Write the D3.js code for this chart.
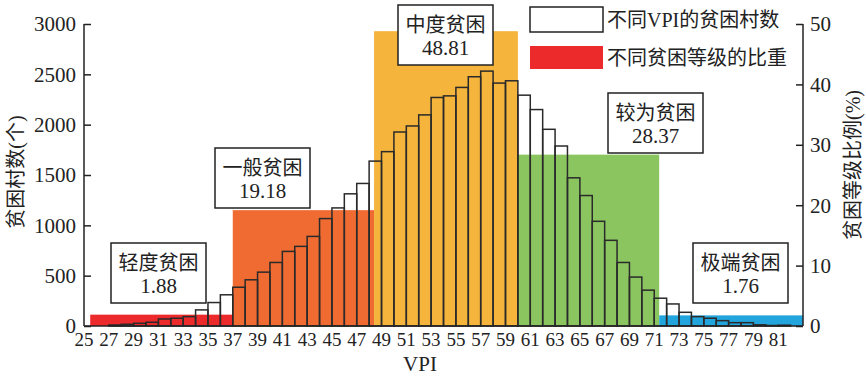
<!DOCTYPE html>
<html>
<head>
<meta charset="utf-8">
<script src="https://cdn.jsdelivr.net/npm/d3@7"></script>
<style>
  body { margin: 0; background: #fff; }
  text { font-family: "Liberation Serif", "Noto Sans CJK SC", serif; fill: #222; }
</style>
</head>
<body>
<svg width="866" height="376"></svg>
<script>
// VPI categories and village counts per VPI
var vpi = [27, 28, 29, 30, 31, 32, 33, 34, 35, 36, 37, 38, 39, 40, 41, 42, 43, 44, 45, 46,
           47, 48, 49, 50, 51, 52, 53, 54, 55, 56, 57, 58, 59, 60, 61, 62, 63, 64, 65, 66,
           67, 68, 69, 70, 71, 72, 73, 74, 75, 76, 77, 78, 79, 80, 81];
var counts = [10, 17, 27, 37, 70, 77, 93, 160, 233, 310, 385, 459, 535, 631, 741, 791, 890, 1067, 1173, 1313,
              1416, 1638, 1732, 1927, 1987, 2097, 2270, 2286, 2370, 2476, 2532, 2413, 2436, 2293, 2150, 1954, 1788, 1472, 1296, 1040,
              851, 631, 486, 356, 276, 219, 136, 93, 77, 53, 33, 33, 12, 5, 8];

// poverty grades, their VPI range and share (%)
var grades = ["轻度贫困", "一般贫困", "中度贫困", "较为贫困", "极端贫困"];
var gradeStart = [25.5, 37, 48.4, 60, 71.4];
var gradeEnd = [37, 48.4, 60, 71.4, 83];
var gradeShare = [1.88, 19.18, 48.81, 28.37, 1.76];
var gradeColor = ["#ed2a2b", "#f06b31", "#f5b43b", "#8bc560", "#22a4dc"];

var xTicks = d3.range(25, 82, 2);
var yTicks = [0, 500, 1000, 1500, 2000, 2500, 3000];
var y2Ticks = [0, 10, 20, 30, 40, 50];

var svg = d3.select("svg"),
    pLeft = 84, pRight = 803, pTop = 24, pBottom = 326;

var x = d3.scaleLinear().domain([25, 83]).range([pLeft, pRight]);
var y = d3.scaleLinear().domain([0, 3000]).range([pBottom, pTop]);
var y2 = d3.scaleLinear().domain([0, 50]).range([pBottom, pTop]);

// grade share background blocks
svg.append("g").selectAll("rect")
  .data(grades)
  .enter().append("rect")
    .attr("x", function(d, i) { return x(gradeStart[i]); })
    .attr("y", function(d, i) { return y2(gradeShare[i]); })
    .attr("width", function(d, i) { return x(gradeEnd[i]) - x(gradeStart[i]); })
    .attr("height", function(d, i) { return pBottom - y2(gradeShare[i]); })
    .attr("fill", function(d, i) { return gradeColor[i]; });

// histogram bars, outline only
svg.append("g").selectAll("rect")
  .data(vpi)
  .enter().append("rect")
    .attr("x", function(d) { return x(d); })
    .attr("y", function(d, i) { return y(counts[i]); })
    .attr("width", x(1) - x(0))
    .attr("height", function(d, i) { return pBottom - y(counts[i]); })
    .attr("fill", "none")
    .attr("stroke", "#2a2a2a")
    .attr("stroke-width", 1.5);

// axes: inward ticks
var yAxis = svg.append("g")
    .attr("transform", "translate(" + pLeft + ",0)")
    .call(d3.axisRight(y).tickValues(yTicks).tickSize(7).tickFormat(""));
var y2Axis = svg.append("g")
    .attr("transform", "translate(" + pRight + ",0)")
    .call(d3.axisLeft(y2).tickValues(y2Ticks).tickSize(7).tickFormat(""));
[yAxis, y2Axis].forEach(function(a) {
  a.select(".domain").remove();
  a.selectAll("line").attr("stroke", "#222").attr("stroke-width", 1.5);
});
svg.append("line").attr("x1", pLeft).attr("x2", pLeft).attr("y1", pTop).attr("y2", pBottom)
    .attr("stroke", "#222").attr("stroke-width", 1.5);
svg.append("line").attr("x1", pRight).attr("x2", pRight).attr("y1", pTop).attr("y2", pBottom)
    .attr("stroke", "#222").attr("stroke-width", 1.5);
svg.append("line").attr("x1", pLeft).attr("x2", pRight).attr("y1", pBottom).attr("y2", pBottom)
    .attr("stroke", "#222").attr("stroke-width", 1.5);

svg.append("g").selectAll("text")
  .data(yTicks)
  .enter().append("text")
    .attr("x", 76)
    .attr("y", function(d) { return y(d); })
    .attr("dy", "0.35em")
    .attr("text-anchor", "end")
    .style("font-size", "21px")
    .text(function(d) { return d; });

svg.append("g").selectAll("text")
  .data(y2Ticks)
  .enter().append("text")
    .attr("x", 810)
    .attr("y", function(d) { return y2(d); })
    .attr("dy", "0.35em")
    .style("font-size", "21px")
    .text(function(d) { return d; });

svg.append("g").selectAll("text")
  .data(xTicks)
  .enter().append("text")
    .attr("x", function(d) { return x(d); })
    .attr("y", 346)
    .attr("text-anchor", "middle")
    .style("font-size", "19px")
    .text(function(d) { return d; });

// axis titles
svg.append("text")
    .attr("x", 420).attr("y", 371)
    .attr("text-anchor", "middle")
    .style("font-size", "21px")
    .text("VPI");
svg.append("text")
    .attr("transform", "translate(23,172) rotate(-90)")
    .attr("text-anchor", "middle")
    .style("font-size", "20px")
    .text("贫困村数(个)");
svg.append("text")
    .attr("transform", "translate(860,165) rotate(-90)")
    .attr("text-anchor", "middle")
    .style("font-size", "20px")
    .text("贫困等级比例(%)");

// grade labels
var boxPos = [[111, 243], [215, 148], [398, 5], [608, 93], [693, 243]];
var boxes = svg.append("g").selectAll("g")
  .data(grades)
  .enter().append("g")
    .attr("transform", function(d, i) { return "translate(" + boxPos[i][0] + "," + boxPos[i][1] + ")"; });
boxes.append("rect")
    .attr("width", 95).attr("height", 60)
    .attr("fill", "#fff").attr("stroke", "#222").attr("stroke-width", 1.5);
boxes.append("text")
    .attr("x", 47.5).attr("y", 27)
    .attr("text-anchor", "middle")
    .style("font-size", "20px")
    .text(function(d) { return d; });
boxes.append("text")
    .attr("x", 47.5).attr("y", 50)
    .attr("text-anchor", "middle")
    .style("font-size", "21px")
    .text(function(d, i) { return gradeShare[i].toFixed(2); });

// legend
svg.append("rect").attr("x", 530).attr("y", 7).attr("width", 73).attr("height", 25)
    .attr("fill", "#fff").attr("stroke", "#222").attr("stroke-width", 1.5);
svg.append("rect").attr("x", 530).attr("y", 46).attr("width", 73).attr("height", 23)
    .attr("fill", gradeColor[0]);
svg.append("text").attr("x", 607).attr("y", 27).style("font-size", "20px").text("不同VPI的贫困村数");
svg.append("text").attr("x", 607).attr("y", 65).style("font-size", "20px").text("不同贫困等级的比重");
</script>
</body>
</html>
